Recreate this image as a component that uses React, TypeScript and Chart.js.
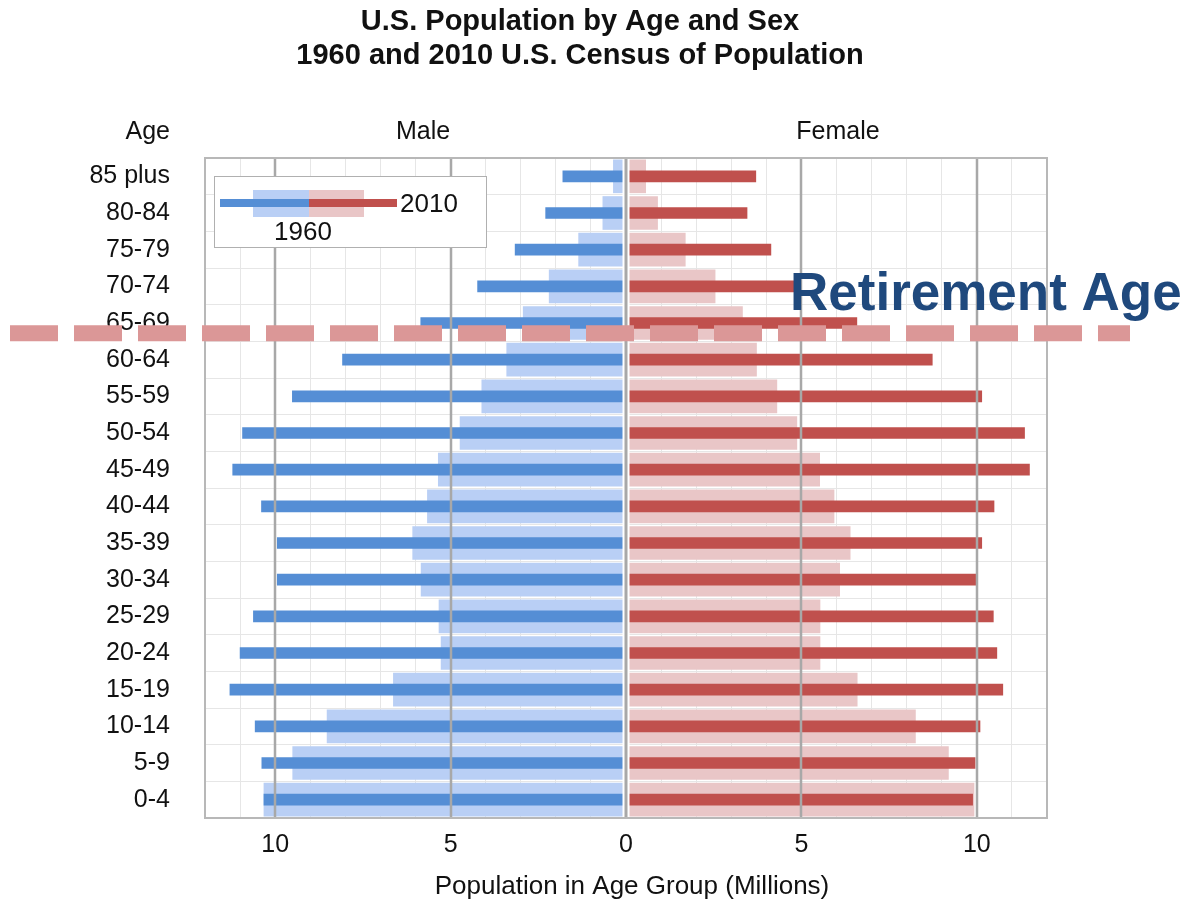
import React, { useEffect, useRef } from 'react';
import { Chart, registerables } from 'chart.js';

Chart.register(...registerables);

// ---------- data ----------
const AGE_GROUPS = [
  '85 plus', '80-84', '75-79', '70-74', '65-69', '60-64', '55-59', '50-54', '45-49',
  '40-44', '35-39', '30-34', '25-29', '20-24', '15-19', '10-14', '5-9', '0-4',
];
// Millions
const MALE_1960 = [0.36, 0.66, 1.35, 2.19, 2.93, 3.40, 4.11, 4.73, 5.35, 5.66, 6.08, 5.84, 5.33, 5.27, 6.63, 8.52, 9.50, 10.32];
const FEMALE_1960 = [0.56, 0.90, 1.69, 2.54, 3.32, 3.72, 4.30, 4.87, 5.52, 5.93, 6.39, 6.09, 5.53, 5.53, 6.59, 8.25, 9.19, 9.92];
const MALE_2010 = [1.80, 2.29, 3.16, 4.23, 5.85, 8.08, 9.51, 10.93, 11.21, 10.39, 9.94, 9.94, 10.62, 11.00, 11.29, 10.57, 10.38, 10.32];
const FEMALE_2010 = [3.70, 3.45, 4.13, 4.88, 6.58, 8.73, 10.14, 11.36, 11.50, 10.49, 10.14, 9.98, 10.47, 10.57, 10.74, 10.09, 9.95, 9.88];

const X_MIN = -12;
const X_MAX = 12;
const MAJOR_TICKS = [-10, -5, 5, 10];
const RETIREMENT_GROUP = '65-69';

const TITLE_LINES = ['U.S. Population by Age and Sex', '1960 and 2010 U.S. Census of Population'];
const X_TITLE = 'Population in Age Group (Millions)';
const AGE_HEADER = 'Age';
const MALE_HEADER = 'Male';
const FEMALE_HEADER = 'Female';
const LEGEND_1960 = '1960';
const LEGEND_2010 = '2010';
const RETIREMENT_LABEL = 'Retirement Age';

// ---------- styles ----------
const FONT = '"Liberation Sans", Arial, Helvetica, sans-serif';
const TEXT = '#111111';
const C_MALE_2010 = '#558ed5';
const C_FEMALE_2010 = '#c0504d';
const C_MALE_1960 = '#b9cff5';
const C_FEMALE_1960 = '#e9c6c7';
const C_MAJOR = '#a8a8a8';
const C_MINOR = '#e6e6e6';
const C_DASH = '#db9797';
const C_RETIRE = '#1f497d';

const overlayPlugin = {
  id: 'overlay',
  afterDatasetsDraw(chart: any) {
    const { ctx, chartArea: a } = chart;
    const xs = chart.scales.x;
    ctx.save();
    // major grid lines drawn over the bars
    ctx.strokeStyle = C_MAJOR;
    ctx.lineWidth = 2.5;
    MAJOR_TICKS.forEach((v) => {
      const px = Math.round(xs.getPixelForValue(v));
      ctx.beginPath();
      ctx.moveTo(px, a.top);
      ctx.lineTo(px, a.bottom);
      ctx.stroke();
    });
    // zero line with white gap
    const z = xs.getPixelForValue(0);
    ctx.fillStyle = '#ffffff';
    ctx.fillRect(z - 3.5, a.top, 7, a.bottom - a.top);
    ctx.fillStyle = C_MAJOR;
    ctx.fillRect(z - 1.5, a.top, 3, a.bottom - a.top);
    // plot border
    ctx.strokeStyle = '#b8b8b8';
    ctx.lineWidth = 2;
    ctx.strokeRect(a.left, a.top, a.right - a.left, a.bottom - a.top);
    ctx.restore();
  },
  afterDraw(chart: any) {
    const { ctx, chartArea: a } = chart;
    const ys = chart.scales.y;
    ctx.save();
    // title
    ctx.fillStyle = TEXT;
    ctx.textAlign = 'center';
    ctx.textBaseline = 'middle';
    ctx.font = `bold 29px ${FONT}`;
    ctx.fillText(TITLE_LINES[0], 580, 22);
    ctx.fillText(TITLE_LINES[1], 580, 56);
    // headers
    ctx.font = `25px ${FONT}`;
    ctx.textAlign = 'right';
    ctx.fillText(AGE_HEADER, 170, 132);
    ctx.textAlign = 'center';
    ctx.fillText(MALE_HEADER, 423, 132);
    ctx.fillText(FEMALE_HEADER, 838, 132);
    // x axis title
    ctx.font = `26px ${FONT}`;
    ctx.fillText(X_TITLE, (a.left + a.right) / 2 + 6, 887);

    // legend
    const lx = 214, ly = 176;
    ctx.fillStyle = '#ffffff';
    ctx.fillRect(lx, ly, 272, 71);
    ctx.strokeStyle = '#b0b0b0';
    ctx.lineWidth = 1;
    ctx.strokeRect(lx + 0.5, ly + 0.5, 272, 71);
    ctx.fillStyle = C_MALE_1960;
    ctx.fillRect(253, 190, 56, 27);
    ctx.fillStyle = C_FEMALE_1960;
    ctx.fillRect(309, 190, 55, 27);
    ctx.fillStyle = C_MALE_2010;
    ctx.fillRect(220, 199, 89, 8);
    ctx.fillStyle = C_FEMALE_2010;
    ctx.fillRect(309, 199, 88, 8);
    ctx.fillStyle = TEXT;
    ctx.font = `26px ${FONT}`;
    ctx.textAlign = 'left';
    ctx.fillText(LEGEND_2010, 400, 205);
    ctx.textAlign = 'center';
    ctx.fillText(LEGEND_1960, 303, 233);

    // retirement dashed line (between 65-69 and 60-64 rows)
    const idx = AGE_GROUPS.indexOf(RETIREMENT_GROUP);
    const yLine = (ys.getPixelForValue(idx) + ys.getPixelForValue(idx + 1)) / 2 - 8;
    ctx.strokeStyle = C_DASH;
    ctx.lineWidth = 16;
    ctx.setLineDash([48, 16]);
    ctx.beginPath();
    ctx.moveTo(10, yLine);
    ctx.lineTo(1130, yLine);
    ctx.stroke();
    ctx.setLineDash([]);
    // retirement label
    ctx.fillStyle = C_RETIRE;
    ctx.font = `bold 53px ${FONT}`;
    ctx.textAlign = 'left';
    ctx.textBaseline = 'alphabetic';
    ctx.fillText(RETIREMENT_LABEL, 790, 310);
    ctx.restore();
  },
};

export default function App() {
  const ref = useRef<HTMLCanvasElement | null>(null);

  useEffect(() => {
    if (!ref.current) return;
    const chart = new Chart(ref.current, {
      type: 'bar',
      data: {
        labels: AGE_GROUPS,
        datasets: [
          {
            label: 'Male 2010',
            data: MALE_2010.map((v) => -v),
            backgroundColor: C_MALE_2010,
            barThickness: 11,
            grouped: false,
            order: 0,
          },
          {
            label: 'Female 2010',
            data: FEMALE_2010,
            backgroundColor: C_FEMALE_2010,
            barThickness: 11,
            grouped: false,
            order: 0,
          },
          {
            label: 'Male 1960',
            data: MALE_1960.map((v) => -v),
            backgroundColor: C_MALE_1960,
            barThickness: 33,
            grouped: false,
            order: 1,
          },
          {
            label: 'Female 1960',
            data: FEMALE_1960,
            backgroundColor: C_FEMALE_1960,
            barThickness: 33,
            grouped: false,
            order: 1,
          },
        ] as any,
      },
      options: {
        indexAxis: 'y',
        responsive: false,
        animation: false,
        events: [],
        layout: { padding: { left: 0, right: 137, top: 158, bottom: 0 } },
        plugins: {
          legend: { display: false },
          tooltip: { enabled: false },
          title: { display: false },
        },
        scales: {
          x: {
            type: 'linear',
            min: X_MIN,
            max: X_MAX,
            afterFit: (s: any) => { s.height = 84; },
            border: { display: false },
            grid: {
              drawTicks: false,
              color: (c: any) => (c.tick && c.tick.value % 5 === 0 ? 'rgba(0,0,0,0)' : C_MINOR),
              lineWidth: 1,
            },
            ticks: {
              stepSize: 1,
              autoSkip: false,
              maxRotation: 0,
              padding: 12,
              color: TEXT,
              font: { family: FONT, size: 25 },
              callback: (v: any) => (Number(v) % 5 === 0 ? String(Math.abs(Number(v))) : ''),
            },
          },
          y: {
            type: 'category',
            afterFit: (s: any) => { s.width = 205; },
            border: { display: false },
            grid: { drawTicks: false, color: C_MINOR, lineWidth: 1, offset: true },
            ticks: {
              padding: 35,
              autoSkip: false,
              color: TEXT,
              font: { family: FONT, size: 25 },
            },
          },
        },
      } as any,
      plugins: [overlayPlugin],
    });
    return () => chart.destroy();
  }, []);

  return (
    <div style={{ position: 'fixed', left: 0, top: 0, width: 1184, height: 902, background: '#ffffff' }}>
      <canvas ref={ref} width={1184} height={902} style={{ display: 'block' }} />
    </div>
  );
}
